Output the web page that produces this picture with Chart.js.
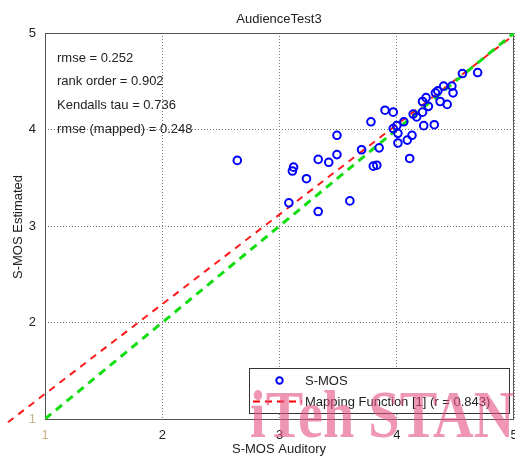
<!DOCTYPE html>
<html>
<head>
<meta charset="utf-8">
<script src="https://cdn.jsdelivr.net/npm/chart.js@4/dist/chart.umd.min.js"></script>
<style>
html,body{margin:0;padding:0;background:#fff;}
#c{display:block;}
</style>
</head>
<body>
<canvas id="c" width="515" height="457"></canvas>
<script>
// ---- data ----
const auditoryX = [2.64,3.12,3.11,3.08,3.33,3.23,3.33,3.42,3.49,3.49,3.60,3.70,3.78,3.80,3.83,3.85,3.90,3.97,4.11,4.00,3.97,4.01,4.01,4.09,4.13,4.06,4.14,4.17,4.22,4.23,4.32,4.22,4.25,4.27,4.33,4.35,4.37,4.40,4.47,4.48,4.43,4.56,4.69];
const estimatedY = [3.68,3.61,3.57,3.24,3.15,3.49,3.69,3.66,3.74,3.94,3.26,3.79,4.08,3.62,3.63,3.81,4.20,4.18,3.70,4.04,4.01,3.96,3.86,3.89,3.94,4.08,4.16,4.13,4.18,4.04,4.05,4.29,4.33,4.24,4.38,4.40,4.29,4.45,4.45,4.38,4.26,4.58,4.59];
const mappingX = [0.684, 5];
const mappingY = [0.966, 4.98];
const identityX = [1, 5];
const identityY = [1, 5];
const tickValues = [1, 2, 3, 4, 5];
const statsLines = ["rmse = 0.252", "rank order = 0.902", "Kendalls tau = 0.736", "rmse (mapped) = 0.248"];
const chartTitle = "AudienceTest3";
const xTitle = "S-MOS Auditory";
const yTitle = "S-MOS Estimated";
const legendLabels = ["S-MOS", "Mapping Function [1] (r = 0.843)"];
const watermark = "iTeh STAND";

const FONT = '"Liberation Sans", Arial, sans-serif';
const toPts = (xs, ys) => xs.map((x, i) => ({x: x, y: ys[i]}));

const overlay = {
  id: 'overlay',
  beforeDatasetsDraw(chart) {
    const {ctx, chartArea: a} = chart;
    ctx.save();
    ctx.strokeStyle = '#555';
    ctx.lineWidth = 1;
    ctx.strokeRect(a.left + 0.5, a.top + 0.5, a.right - a.left - 1, a.bottom - a.top);
    ctx.restore();
  },
  afterDraw(chart) {
    const {ctx, chartArea: a} = chart;
    ctx.save();
    ctx.fillStyle = '#222';
    ctx.font = '13px ' + FONT;
    ctx.textBaseline = 'middle';
    ctx.textAlign = 'center';
    ctx.fillText(chartTitle, 279, 19);
    ctx.fillText(xTitle, 279, 449);
    ctx.save();
    ctx.translate(18, 227);
    ctx.rotate(-Math.PI / 2);
    ctx.fillText(yTitle, 0, 0);
    ctx.restore();
    // stats text
    ctx.textAlign = 'left';
    statsLines.forEach((t, i) => ctx.fillText(t, 57, 58 + i * 23.7));
    // legend box
    ctx.fillStyle = '#fff';
    ctx.fillRect(249.5, 368.5, 260, 45);
    ctx.strokeStyle = '#333';
    ctx.lineWidth = 1;
    ctx.strokeRect(249.5, 368.5, 260, 45);
    ctx.strokeStyle = '#0000ff';
    ctx.lineWidth = 2;
    ctx.beginPath();
    ctx.arc(279.5, 380.5, 3.2, 0, Math.PI * 2);
    ctx.stroke();
    ctx.strokeStyle = '#ff0000';
    ctx.setLineDash([7, 5]);
    ctx.beginPath();
    ctx.moveTo(253, 401.5);
    ctx.lineTo(302, 401.5);
    ctx.stroke();
    ctx.setLineDash([]);
    ctx.fillStyle = '#222';
    ctx.fillText(legendLabels[0], 305, 381);
    ctx.fillText(legendLabels[1], 305, 402);
    // watermark
    ctx.fillStyle = 'rgba(228,80,128,0.6)';
    ctx.font = 'bold 67px "Liberation Serif", "Times New Roman", serif';
    ctx.textBaseline = 'alphabetic';
    ctx.translate(250, 437);
    ctx.scale(0.84, 1);
    ctx.fillText(watermark, 0, 0);
    ctx.restore();
  }
};

const axisCommon = {
  type: 'linear',
  min: 1,
  max: 5,
  afterBuildTicks(scale) { scale.ticks = tickValues.map(v => ({value: v})); },
  grid: { color: '#777', lineWidth: 1, drawTicks: false },
  border: { display: false, dash: [1, 2] },
};

new Chart(document.getElementById('c'), {
  type: 'scatter',
  data: {
    datasets: [
      {
        label: legendLabels[0],
        data: toPts(auditoryX, estimatedY),
        pointStyle: 'circle',
        pointRadius: 3.8,
        pointBorderWidth: 2,
        borderColor: '#0000ff',
        backgroundColor: 'rgba(0,0,0,0)',
        order: 0
      },
      {
        label: 'identity',
        data: toPts(identityX, identityY),
        showLine: true,
        pointRadius: 0,
        borderColor: '#11dd11',
        borderWidth: 3,
        borderDash: [8, 6],
        order: 1
      },
      {
        label: legendLabels[1],
        data: toPts(mappingX, mappingY),
        showLine: true,
        pointRadius: 0,
        borderColor: '#ff1a1a',
        borderWidth: 2,
        borderDash: [7, 6],
        clip: false,
        order: 2
      }
    ]
  },
  options: {
    responsive: false,
    animation: false,
    layout: { autoPadding: false, padding: { left: 0, right: 1, top: 33, bottom: 0 } },
    plugins: { legend: { display: false }, tooltip: { enabled: false } },
    scales: {
      x: Object.assign({}, axisCommon, {
        position: 'bottom',
        afterFit(s) { s.height = 38; s.paddingRight = 0; s.paddingLeft = 0; },
        ticks: {
          padding: 9,
          font: { size: 13, family: FONT },
          color: ctx => ctx.tick && ctx.tick.value === 1 ? '#c9b38a' : '#222',
          callback: v => String(v)
        }
      }),
      y: Object.assign({}, axisCommon, {
        position: 'left',
        afterFit(s) { s.width = 45; s.paddingTop = 0; s.paddingBottom = 0; },
        ticks: {
          padding: 9,
          font: { size: 13, family: FONT },
          color: ctx => ctx.tick && ctx.tick.value === 1 ? '#c9b38a' : '#222',
          callback: v => String(v)
        }
      })
    }
  },
  plugins: [overlay]
});
</script>
</body>
</html>
